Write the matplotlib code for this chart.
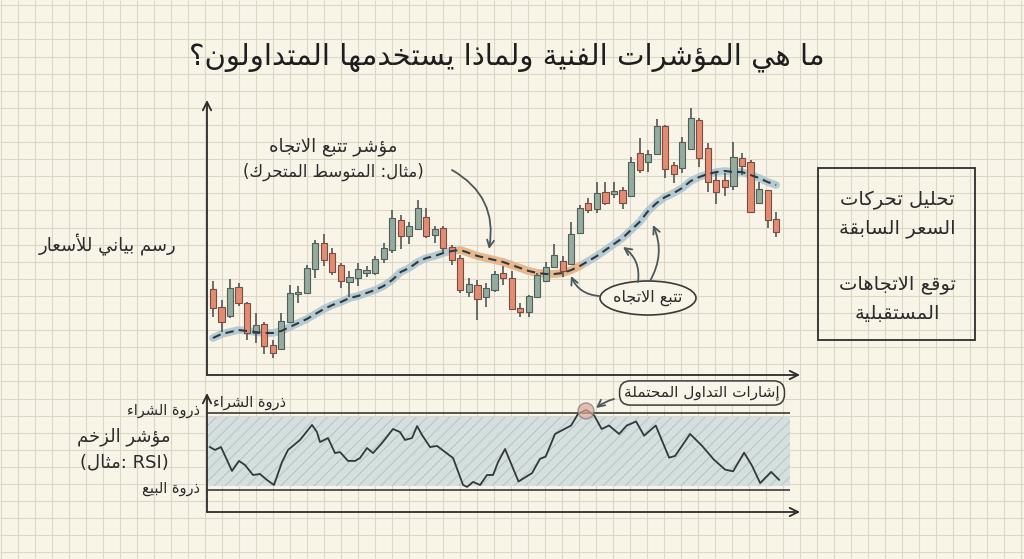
import numpy as np
import matplotlib
matplotlib.use("Agg")
import matplotlib.pyplot as plt
from matplotlib.patches import Ellipse, Rectangle, Circle

# ---- data ----
opens = [55.5, 46.5, 42, 56.5, 48.5, 33.5, 38, 27.5, 25.5, 39, 53, 53.5, 65.5, 78.5, 73.5, 67.5, 59,
         61, 63.5, 63.5, 70.5, 75, 90, 82, 85.5, 91.5, 82.5, 86, 76.5, 71, 54, 57.5, 51.5, 55,
         63.5, 61, 46, 44, 51.5, 59.5, 66.5, 69.5, 68, 83.5, 98.5, 95.5, 104, 103, 105, 102, 123.5,
         119, 123, 137, 117.5, 116, 125.5, 140, 126, 110, 110, 107, 121, 119, 98.5, 105, 90.5]
highs = [59.5, 50, 60.5, 58.5, 49, 43.5, 39, 30, 43.5, 57.5, 57, 67.5, 80, 83, 76, 68.5, 64.5,
         68.5, 67, 72, 78.5, 95, 92.5, 89, 100, 96, 87, 87, 77.5, 72.5, 61, 60, 58.5, 64.5,
         67, 64.5, 48.5, 52.5, 63.5, 69, 78, 72, 89, 97.5, 101, 109, 109, 109, 106.5, 121.5, 131,
         125, 140.5, 137.5, 119, 131.5, 146, 141, 128.5, 114, 113.5, 129, 123.5, 120, 109, 105, 94]
lows = [41.5, 34, 41, 47, 30, 28.5, 23, 21, 25, 38.5, 48.5, 53, 61, 67, 62.5, 56, 51.5,
        57, 61.5, 62.5, 68.5, 73.5, 75.5, 78, 85.5, 81, 78.5, 74, 67.5, 53.5, 51.5, 40, 46.5, 54,
        57.5, 45, 41.5, 41.5, 51, 59, 66.5, 61.5, 68, 83, 93.5, 93.5, 97.5, 101, 95.5, 101.5, 113.5,
        114, 122.5, 111, 108.5, 113.5, 125.5, 116.5, 104, 98, 102, 105, 112.5, 94, 98.5, 86, 81.5]
closes = [46, 39, 56, 48.5, 33.5, 37.5, 27, 23.5, 39.5, 53.5, 54, 66, 78.5, 70, 64, 59.5, 61.5,
          65.5, 65, 70.5, 76, 91, 82, 87, 96, 82, 85.5, 76, 70, 55, 58, 50.5, 56, 63,
          61, 45.5, 44, 52, 62.5, 66.5, 72.5, 64.5, 83, 96, 95, 103.5, 98.5, 104.5, 98.5, 119, 115,
          123, 137, 115.5, 113, 129, 141, 121, 109, 104, 106.5, 121.5, 117, 94, 105.5, 90, 84]
moving_avg = [31, 33, 34, 35, 34.5, 34, 33.5, 33.5, 34.5, 36.5, 38.5, 40.5, 43, 45.5, 47.5, 49, 51,
              52, 53.5, 55, 57, 60, 64, 66, 69, 71, 72, 73.5, 74.5, 75, 73.5, 72, 71, 70,
              69, 67.5, 66, 64.5, 63.5, 63, 63, 63.5, 65, 67, 69.5, 72, 75, 78, 81, 85, 89,
              94.5, 98.5, 101.5, 103.5, 106, 109.5, 111.5, 113, 114, 114.5, 114, 114, 112.5, 111, 109, 107.5]
trend_from, trend_to = 29, 44

rsi_t = [-0.35, 0.23, 0.94, 1.64, 2.23, 3.05, 3.75, 4.69, 5.51, 6.33, 7.15, 8.09, 8.79, 10.2, 11.61,
         12.19, 12.54, 13.48, 14.3, 14.89, 15.83, 16.65, 17.23, 18.05, 18.76, 19.81, 21.1, 21.92,
         22.51, 23.33, 23.92, 24.5, 25.44, 26.26, 28.14, 29.31, 29.78, 30.48, 31.3, 32.12, 32.83,
         33.41, 34.23, 35.81, 37.4, 38.33, 38.99, 40.09, 41.97, 42.79, 43.73, 44.67, 45.55, 46.42,
         47.6, 48.49, 49.59, 50.53, 51.89, 53.46, 54.16, 55.92, 57.33, 58.68, 60.02, 60.96, 62.25,
         63.19, 64.13, 65.42, 66.35]
rsi = [52.3, 50.8, 52.3, 45.6, 39.9, 45.1, 43, 37.8, 38.3, 35.2, 32.6, 44.5, 50.8, 56, 63.8,
       60.1, 54.9, 57, 49.2, 49.7, 45.1, 45.1, 46.6, 51.8, 49.2, 54.4, 61.7, 60.1,
       56, 57, 63.2, 58.6, 52.3, 52.9, 46.6, 32.6, 31.6, 34.2, 32.6, 37.8, 37.8,
       44.5, 51.3, 34.4, 38.8, 46.2, 47.3, 59.1, 63.5, 69.6, 71.6, 68.8, 61.7, 63.5,
       59.1, 63.5, 65.6, 58.2, 63.5, 46.8, 47.7, 59.1, 52.9, 45.9, 40.6, 39.7, 49.4,
       42.5, 33.6, 39.4, 35.3]
overbought, oversold = 70, 30

TITLE = "ما هي المؤشرات الفنية ولماذا يستخدمها المتداولون؟"
MA_LABEL = "مؤشر تتبع الاتجاه"
MA_EXAMPLE = "(مثال: المتوسط المتحرك)"
PRICE_LABEL = "رسم بياني للأسعار"
BOX_LINES = ["تحليل تحركات", "السعر السابقة", "توقع الاتجاهات", "المستقبلية"]
TREND_TAG = "تتبع الاتجاه"
OB_LABEL = "ذروة الشراء"
OS_LABEL = "ذروة البيع"
MOMENTUM = "مؤشر الزخم"
EXAMPLE = "مثال"
SIGNALS = "إشارات التداول المحتملة"

# ---- minimal Arabic shaping (matplotlib has no complex text layout) ----
LETTERS = "ءآأؤإئابةتثجحخدذرزسشصضطظعغفقكلمنهوىي"
RIGHT_ONLY = "آأؤإادذرزوىة"
FORMS = {}
code = 0xFE80
for ch in LETTERS:
    n = 1 if ch == "ء" else (2 if ch in RIGHT_ONLY else 4)
    FORMS[ch] = (code, n)
    code += n
LAMALEF = {"آ": 0xFEF5, "أ": 0xFEF7, "إ": 0xFEF9, "ا": 0xFEFB}


def joining(t):
    if isinstance(t, int):
        return "R"
    if t not in FORMS:
        return "U"
    n = FORMS[t][1]
    return "D" if n == 4 else ("R" if n == 2 else "U")


def ar(text):
    toks, i = [], 0
    while i < len(text):
        c = text[i]
        if c == "ل" and i + 1 < len(text) and text[i + 1] in LAMALEF:
            toks.append(LAMALEF[text[i + 1]])
            i += 2
        else:
            toks.append(c)
            i += 1
    out = []
    for k, t in enumerate(toks):
        jt = joining(t)
        before = k > 0 and joining(toks[k - 1]) == "D" and jt in "DR"
        after = jt == "D" and k + 1 < len(toks) and joining(toks[k + 1]) in "DR"
        if isinstance(t, int):
            out.append(chr(t + (1 if before else 0)))
        elif jt == "U":
            out.append(t)
        else:
            off = 3 if (before and after) else 1 if before else 2 if after else 0
            out.append(chr(FORMS[t][0] + off))
    vis = "".join(reversed(out))
    return vis.translate(str.maketrans("()", ")("))


plt.rcParams["font.family"] = ["DejaVu Sans"]

PAPER = "#f8f4e8"
GRID = "#ddd7c6"
INK = "#2b2b2b"
GREEN = "#94ab9e"
GREEN_EDGE = "#4f605a"
RED = "#e38c74"
RED_EDGE = "#7b4c40"
ARROW = "#4b585c"

W, H = 1024, 559
fig = plt.figure(figsize=(W / 100, H / 100), dpi=100)
fig.patch.set_facecolor(PAPER)

bg = fig.add_axes([0, 0, 1, 1])
bg.set_xlim(0, W)
bg.set_ylim(H, 0)
bg.axis("off")
bg.vlines(np.arange(1, W, 17), 0, H, color=GRID, lw=0.8)
bg.hlines(np.arange(5.2, H, 17.1), 0, W, color=GRID, lw=0.8)


def px_axes(x0, y0, x1, y1):
    a = fig.add_axes([x0 / W, 1 - y1 / H, (x1 - x0) / W, (y1 - y0) / H])
    a.set_facecolor("none")
    for s in a.spines.values():
        s.set_visible(False)
    a.set_xticks([])
    a.set_yticks([])
    a.annotate("", xy=(0, 1), xytext=(0, 0), xycoords="axes fraction",
               arrowprops=dict(arrowstyle="->,head_length=0.6,head_width=0.3", lw=1.3,
                               color=INK, shrinkA=0, shrinkB=0))
    a.annotate("", xy=(1, 0), xytext=(0, 0), xycoords="axes fraction",
               arrowprops=dict(arrowstyle="->,head_length=0.6,head_width=0.3", lw=1.3,
                               color=INK, shrinkA=0, shrinkB=0))
    return a


# price chart
ax = px_axes(207, 100, 800, 375)
ax.set_xlim(-0.7, 68.8)
ax.set_ylim(12.5, 150)

o, h, l, c = map(np.array, (opens, highs, lows, closes))
idx = np.arange(len(o))
up = c >= o
ma = np.array(moving_avg)

ax.plot(idx, ma, color="#aac4ce", lw=5.5, alpha=0.85, solid_capstyle="round", zorder=1)
ax.plot(idx[trend_from:trend_to], ma[trend_from:trend_to], color="#f1b583", lw=5.5,
        alpha=0.9, solid_capstyle="round", zorder=1)
ax.vlines(idx, l, h, color="#45494a", lw=1.1, zorder=2)
ax.bar(idx, np.maximum(np.abs(c - o), 0.8), bottom=np.minimum(o, c), width=0.72,
       color=np.where(up, GREEN, RED), edgecolor=np.where(up, GREEN_EDGE, RED_EDGE),
       lw=0.8, zorder=3)
ax.plot(idx, ma, color="#2d3a40", lw=1.5, ls=(0, (4, 2.5)), zorder=4)

# RSI panel
plt.rcParams["hatch.linewidth"] = 0.7
rx = px_axes(207, 393, 800, 512)
rx.set_xlim(-0.7, 68.8)
rx.set_ylim(18.57, 80.39)
rx.fill_between([-0.7, 67.6], oversold + 2, overbought - 2, facecolor="#d4dfde",
                edgecolor="#b4c5c5", hatch="///", lw=0, zorder=1)
rx.hlines([overbought, oversold], -0.7, 67.6, color="#3a3a3a", lw=1.2, zorder=2)
rx.plot(rsi_t, rsi, color="#33393b", lw=1.3, zorder=3)

# overlay for labels and pointers
ov = fig.add_axes([0, 0, 1, 1])
ov.set_xlim(0, W)
ov.set_ylim(H, 0)
ov.axis("off")

ov.text(507, 57, ar(TITLE), ha="center", va="center", fontsize=21, color="#1e1e1e")
ov.text(333, 147, ar(MA_LABEL), ha="center", va="center", fontsize=13, color=INK)
ov.text(333, 172, ar(MA_EXAMPLE), ha="center", va="center", fontsize=12, color=INK)
ov.text(108, 245, ar(PRICE_LABEL), ha="center", va="center", fontsize=13, color=INK)

ov.add_patch(Rectangle((818, 168), 157, 172, fill=False, ec="#3a3a3a", lw=1.4))
for txt, yy in zip(BOX_LINES, [200, 228, 285, 313]):
    ov.text(897, yy, ar(txt), ha="center", va="center", fontsize=14, color=INK)

ov.add_patch(Ellipse((648, 298), 96, 34, fill=True, fc=PAPER, ec="#3a3a3a", lw=1.2))
ov.text(648, 298, ar(TREND_TAG), ha="center", va="center", fontsize=11.5, color=INK)

arrow = dict(arrowstyle="->,head_length=0.5,head_width=0.25", color=ARROW, lw=1.3,
             shrinkA=0, shrinkB=0)
ov.annotate("", xy=(489, 249), xytext=(452, 170),
            arrowprops=dict(arrow, connectionstyle="arc3,rad=-0.35"))
ov.annotate("", xy=(571, 276), xytext=(599, 296),
            arrowprops=dict(arrow, connectionstyle="arc3,rad=-0.3"))
ov.annotate("", xy=(623, 247), xytext=(638, 282),
            arrowprops=dict(arrow, connectionstyle="arc3,rad=0.3"))
ov.annotate("", xy=(653, 225), xytext=(650, 281),
            arrowprops=dict(arrow, connectionstyle="arc3,rad=0.25"))

ov.text(200, 410, ar(OB_LABEL), ha="right", va="center", fontsize=10.5, color=INK)
ov.text(213, 403, ar(OB_LABEL), ha="left", va="center", fontsize=10.5, color=INK)
ov.text(200, 489, ar(OS_LABEL), ha="right", va="center", fontsize=10.5, color=INK)
ov.text(124, 437, ar(MOMENTUM), ha="center", va="center", fontsize=13, color=INK)
ov.text(124, 462, "(" + ar(EXAMPLE) + ": RSI)", ha="center", va="center", fontsize=13,
        color=INK)

ov.add_patch(Circle((586, 411), 8, fc="#d9a99a", ec="#7a7a7a", lw=1.0, alpha=0.7))
ov.text(702, 393, ar(SIGNALS), ha="center", va="center", fontsize=11, color=INK,
        bbox=dict(boxstyle="round,pad=0.3,rounding_size=0.7", fc=PAPER, ec="#3a3a3a", lw=1.1))
ov.annotate("", xy=(596, 408), xytext=(614, 399),
            arrowprops=dict(arrow, connectionstyle="arc3,rad=0.1"))

fig.savefig("out.png", dpi=100, facecolor=PAPER)
